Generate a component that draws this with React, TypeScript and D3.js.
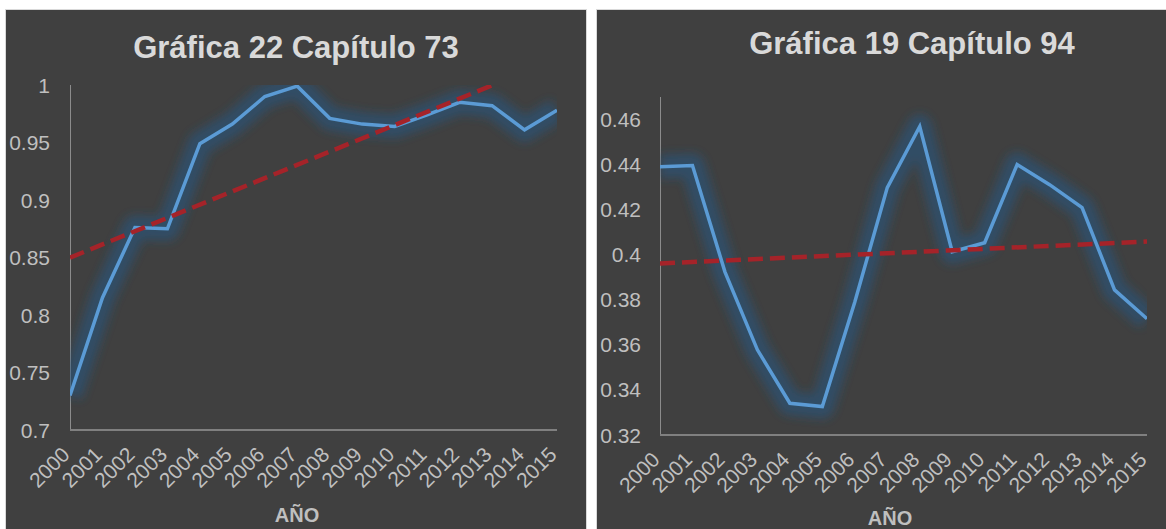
import React from "react";
import * as d3 from "d3";

const years = ["2000","2001","2002","2003","2004","2005","2006","2007","2008","2009","2010","2011","2012","2013","2014","2015"];
const cap73Values = [0.730,0.815,0.876,0.875,0.949,0.966,0.990,0.999,0.971,0.966,0.964,0.974,0.985,0.982,0.961,0.978];
const cap94Values = [0.4391,0.4396,0.3924,0.3578,0.3341,0.3326,0.379,0.4298,0.4569,0.4013,0.4053,0.4400,0.4311,0.4209,0.3844,0.3716];
const cap73Ticks = [0.7,0.75,0.8,0.85,0.9,0.95,1];
const cap73TickLabels = ["0.7","0.75","0.8","0.85","0.9","0.95","1"];
const cap94Ticks = [0.32,0.34,0.36,0.38,0.4,0.42,0.44,0.46];
const cap94TickLabels = ["0.32","0.34","0.36","0.38","0.4","0.42","0.44","0.46"];
const cap73Title = "Gráfica 22 Capítulo 73";
const cap94Title = "Gráfica 19 Capítulo 94";
const xTitle = "AÑO";

const FONT = "'Liberation Sans', Arial, sans-serif";

type Cfg = {
  id: string;
  title: string;
  values: number[];
  ticks: number[];
  tickLabels: string[];
  domain: [number, number];
  panel: { x: number; y: number; w: number; h: number };
  plot: { x0: number; x1: number; top: number; bottom: number };
  titlePos: [number, number];
  axisTitlePos: [number, number];
  labelRight: number;
};

function regression(vals: number[]) {
  const n = vals.length;
  const xs = vals.map((_, i) => i);
  const mx = d3.mean(xs) as number;
  const my = d3.mean(vals) as number;
  let num = 0, den = 0;
  xs.forEach((x, i) => { num += (x - mx) * (vals[i] - my); den += (x - mx) ** 2; });
  const slope = num / den;
  const intercept = my - slope * mx;
  return [0, n - 1].map((x) => ({ i: x, v: intercept + slope * x }));
}

function Chart({ cfg }: { cfg: Cfg }) {
  const { plot, panel } = cfg;
  const x = d3.scalePoint<string>().domain(years).range([plot.x0, plot.x1]);
  const y = d3.scaleLinear().domain(cfg.domain).range([plot.bottom, plot.top]);
  const line = d3.line<number>().x((_, i) => x(years[i]) as number).y((d) => y(d));
  const path = line(cfg.values) || "";
  const trend = regression(cfg.values);
  const trendPath = d3.line<{ i: number; v: number }>().x((d) => x(years[d.i]) as number).y((d) => y(d.v))(trend) || "";
  const clipId = `clip-${cfg.id}`;
  const glowId = `glow-${cfg.id}`;
  return (
    <g>
      <defs>
        <clipPath id={clipId}>
          <rect x={plot.x0} y={plot.top} width={plot.x1 - plot.x0} height={plot.bottom - plot.top} />
        </clipPath>
        <filter id={glowId} x="-20%" y="-20%" width="140%" height="140%">
          <feGaussianBlur stdDeviation="5" />
        </filter>
      </defs>
      <rect x={panel.x + 0.5} y={panel.y + 0.5} width={panel.w} height={panel.h} fill="#404040" stroke="#d9d9d9" strokeWidth={1} />
      <text x={cfg.titlePos[0]} y={cfg.titlePos[1]} textAnchor="middle" fontFamily={FONT} fontWeight="bold" fontSize={31} fill="#d9d9d9">{cfg.title}</text>
      {cfg.ticks.map((t, i) => (
        <text key={t} x={cfg.labelRight} y={y(t)} dy="0.36em" textAnchor="end" fontFamily={FONT} fontSize={21} fill="#bfbfbf">{cfg.tickLabels[i]}</text>
      ))}
      {years.map((yr) => (
        <text key={yr} transform={`translate(${(x(yr) as number) + 1},${plot.bottom + 26}) rotate(-45)`} textAnchor="end" fontFamily={FONT} fontSize={21} fill="#bfbfbf">{yr}</text>
      ))}
      <text x={cfg.axisTitlePos[0]} y={cfg.axisTitlePos[1]} textAnchor="middle" fontFamily={FONT} fontWeight="bold" fontSize={20} fill="#bfbfbf">{xTitle}</text>
      <line x1={plot.x0 + 0.5} x2={plot.x0 + 0.5} y1={plot.top} y2={plot.bottom} stroke="#8c8c8c" strokeWidth={1} />
      <line x1={plot.x0} x2={plot.x1} y1={plot.bottom} y2={plot.bottom} stroke="#808080" strokeWidth={2} />
      <g clipPath={`url(#${clipId})`}>
        <path d={path} fill="none" stroke="#24557f" strokeOpacity={0.6} strokeWidth={24} strokeLinejoin="round" filter={`url(#${glowId})`} />
        <path d={path} fill="none" stroke="#5b9bd5" strokeWidth={3.5} strokeLinejoin="miter" />
        <path d={trendPath} fill="none" stroke="#a52329" strokeWidth={4.5} strokeDasharray="15 7" />
      </g>
    </g>
  );
}

const left: Cfg = {
  id: "c73",
  title: cap73Title,
  values: cap73Values,
  ticks: cap73Ticks,
  tickLabels: cap73TickLabels,
  domain: [0.7, 1],
  panel: { x: 5, y: 9, w: 581, h: 540 },
  plot: { x0: 70, x1: 557, top: 85, bottom: 430 },
  titlePos: [296, 57.5],
  axisTitlePos: [297, 522],
  labelRight: 50,
};

const right: Cfg = {
  id: "c94",
  title: cap94Title,
  values: cap94Values,
  ticks: cap94Ticks,
  tickLabels: cap94TickLabels,
  domain: [0.32, 0.47],
  panel: { x: 596, y: 9, w: 600, h: 540 },
  plot: { x0: 660, x1: 1147, top: 97, bottom: 435 },
  titlePos: [912, 54],
  axisTitlePos: [890, 525],
  labelRight: 641,
};

export default function App() {
  return (
    <svg width={1166} height={529} style={{ position: "absolute", left: 0, top: 0, background: "#ffffff" }}>
      <rect x={0} y={0} width={1166} height={529} fill="#ffffff" />
      <Chart cfg={left} />
      <Chart cfg={right} />
    </svg>
  );
}
